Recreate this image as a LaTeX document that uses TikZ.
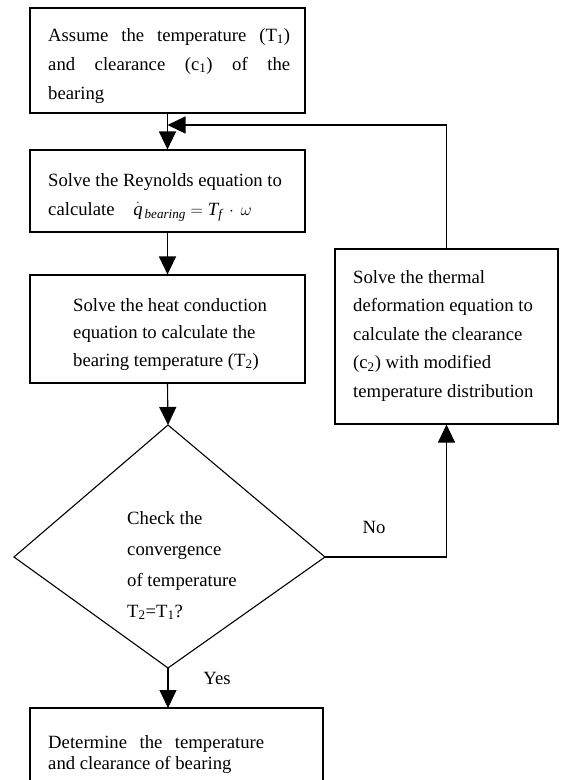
\documentclass[tikz,border=0pt]{standalone}
\usepackage{fontspec}
\setmainfont{Liberation Serif}
\usetikzlibrary{arrows.meta}
\tikzset{
  box/.style={draw, line width=1.1pt, inner sep=0pt},
  ln/.style={line width=1.1pt},
  arr/.style={line width=1.1pt, -{Triangle[width=17pt,length=18pt]}},
  txt/.style={align=left, inner sep=0pt, anchor=north west},
}
\newcommand{\fs}[1]{\fontsize{18.7}{#1}\selectfont}
\begin{document}
\begin{tikzpicture}[x=1pt,y=-1pt]
\useasboundingbox (0,0) rectangle (561,780);
\clip (0,0) rectangle (561,780);
% boxes
\node[box, minimum width=275pt, minimum height=105pt] (b1) at (167.5,60.5) {};
\node[box, minimum width=275pt, minimum height=82pt] (b2) at (167.5,191) {};
\node[box, minimum width=275pt, minimum height=108pt] (b3) at (167.5,329) {};
\node[box, minimum width=223pt, minimum height=175pt] (b4) at (446.5,336.5) {};
% texts
\node[txt, font=\fs{29}] (t1) at (48,28) {\makebox[242pt][s]{Assume the temperature (T\textsubscript{1})}\\\makebox[242pt][s]{and clearance (c\textsubscript{1}) of the}\\bearing};
\node[txt, font=\fs{29}] (t2) at (48,173) {Solve the Reynolds equation to\\calculate\quad $\dot{\mathit{q}}_{\,\mathit{bearing}} = \mathit{T}_{\mathit{f}}\,\cdot\,\omega$};
\node[txt, font=\fs{27.5}] (t3) at (73,298) {Solve the heat conduction\\equation to calculate the\\bearing temperature (T\textsubscript{2})};
\node[txt, font=\fs{28.5}] (t4) at (353,270) {Solve the thermal\\deformation equation to\\calculate the clearance\\(c\textsubscript{2}) with modified\\temperature distribution};
% diamond
\coordinate (dT) at (168,425);
\coordinate (dR) at (325,557);
\coordinate (dB) at (168,668);
\coordinate (dL) at (14,557);
\draw[ln, line join=miter] (dT) -- (dR) -- (dB) -- (dL) -- cycle;
\node[txt, font=\fs{31}] (td) at (127,511) {Check the\\convergence\\of temperature\\T\textsubscript{2}=T\textsubscript{1}?};
% final box (open at the bottom)
\coordinate (b5t) at (168,708);
\draw[ln] (30,790) -- (30,708) -- (323,708) -- (323,790);
\node[txt, font=\fs{21}] (t5) at (48,735) {\makebox[216pt][s]{Determine the temperature}\\and clearance of bearing};
% labels
\node[font=\fs{22}, inner sep=0pt] (no) at (374,527) {No};
\node[font=\fs{22}, inner sep=0pt] (yes) at (217,678) {Yes};
% connectors
\coordinate (fb) at (b4.north |- 0,125);
\coordinate (fl) at (b1.south |- 0,125);
\draw[arr] (b1.south) -- (b2.north);
\draw[arr] (b4.north) -- (fb) -- (fl);
\draw[arr] (b2.south) -- (b3.north);
\draw[arr] (b3.south) -- (dT);
\draw[arr] (dR) -| (b4.south);
\draw[arr] (dB) -- (b5t);
\end{tikzpicture}
\end{document}
